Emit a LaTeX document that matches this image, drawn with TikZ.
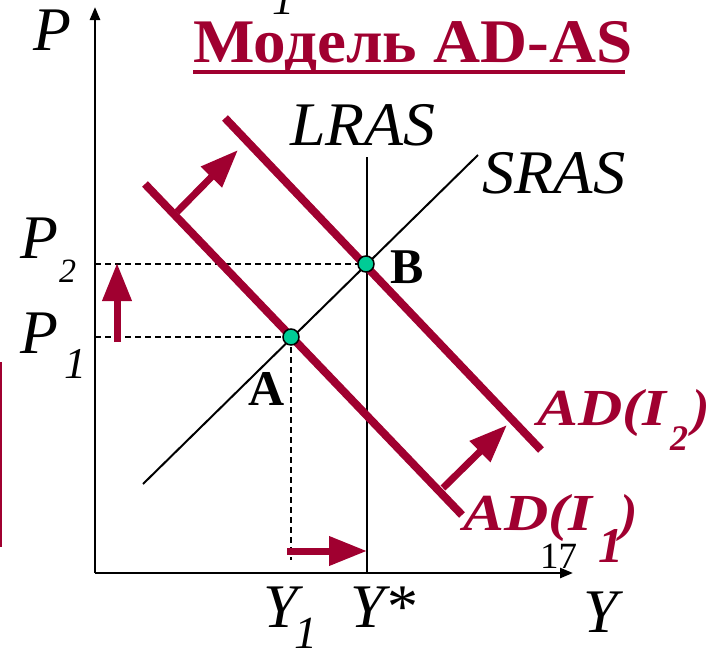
\documentclass[tikz,border=0pt]{standalone}
\usepackage{fontspec}
\setmainfont{Liberation Serif}
\usetikzlibrary{arrows.meta}
\definecolor{adred}{RGB}{160,0,48}
\definecolor{dotc}{RGB}{0,204,150}
\begin{document}
\begin{tikzpicture}[x=1pt,y=-1pt,
  lbl/.style={inner sep=0pt, anchor=base west, font=\fontsize{62}{62}\selectfont\itshape},
  sublbl/.style={inner sep=0pt, anchor=base west, font=\fontsize{44}{44}\selectfont\itshape},
  bigarrow/.style={adred, line width=7pt, -{Triangle[length=38pt,width=28pt]}},
  adline/.style={adred, line width=8pt},
  axis/.style={line width=2.5pt, -{Triangle[length=13pt,width=10pt]}},
  guide/.style={line width=2pt, dash pattern=on 6pt off 4pt},
  eqdot/.style={circle, fill=dotc, draw=black, line width=1.5pt, minimum size=16pt, inner sep=0pt},
  ptlbl/.style={inner sep=0pt, anchor=base west, font=\fontsize{50}{50}\selectfont\bfseries},
  adlbl/.style={inner sep=0pt, anchor=base west, text=adred, font=\fontsize{52}{52}\selectfont\bfseries\itshape},
  adsub/.style={inner sep=0pt, anchor=base west, text=adred, font=\fontsize{36}{36}\selectfont\bfseries\itshape},
  curvelbl/.style={inner sep=0pt, anchor=base west, font=\fontsize{62}{62}\selectfont\itshape}]
\useasboundingbox (0,0) rectangle (716,653);
\clip (0,0) rectangle (716,653);
% coordinates
\coordinate (O) at (95,573);
\coordinate (Ytop) at (95,7);
\coordinate (Xend) at (573,573);
\coordinate (A) at (291,337);
\coordinate (B) at (366,264);
\coordinate (P1) at (95,337);
\coordinate (P2) at (95,264);
\coordinate (Abot) at (291,560);
\coordinate (Ltop) at (367,157);
\coordinate (Lbot) at (367,573);
\coordinate (S1) at (143,484);
\coordinate (S2) at (478,155);
\coordinate (D1a) at (145,184);
\coordinate (D1b) at (462,515);
\coordinate (D2a) at (225,118);
\coordinate (D2b) at (541,450);
\coordinate (sh1a) at (177,212);
\coordinate (sh1b) at (238,150);
\coordinate (sh2a) at (443,488);
\coordinate (sh2b) at (507,425);
\coordinate (pa) at (117,342);
\coordinate (pb) at (117,263);
\coordinate (ya) at (287,551);
\coordinate (yb) at (367,551);
\coordinate (rl1) at (1,362);
\coordinate (rl2) at (1,547);
% title
\node[inner sep=0pt, anchor=base west, text=adred, font=\fontsize{62}{62}\selectfont\bfseries] (title) at (193,63) {\scalebox{1.05}[1]{Модель AD-AS}};
\fill[adred] (193,70) rectangle (625,74);
\node[sublbl] (top1) at (272,15) {1};
% axes
\draw[axis] (O) -- (Ytop);
\draw[axis] (O) -- (Xend);
% guides
\draw[guide] (P2) -- (B);
\draw[guide] (P1) -- (A);
\draw[guide] (A) -- (Abot);
% LRAS, SRAS
\draw[line width=2pt] (Ltop) -- (Lbot);
\draw[line width=2pt] (S1) -- (S2);
% AD lines
\draw[adline] (D1a) -- (D1b);
\draw[adline] (D2a) -- (D2b);
% arrows
\draw[bigarrow] (sh1a) -- (sh1b);
\draw[bigarrow] (sh2a) -- (sh2b);
\draw[bigarrow] (pa) -- (pb);
\draw[bigarrow] (ya) -- (yb);
% dots
\node[eqdot] (dA) at (A) {};
\node[eqdot] (dB) at (B) {};
% left red line
\draw[adred, line width=2pt] (rl1) -- (rl2);
% labels
\node[lbl] (Plbl) at (33,50) {P};
\node[lbl] (P2lbl) at (20,258) {P};
\node[inner sep=0pt, anchor=base west, font=\fontsize{34}{34}\selectfont\itshape] (P2sub) at (59,282) {2};
\node[lbl] (P1lbl) at (20,353) {P};
\node[sublbl] (P1sub) at (64,378) {1};
\node[lbl] (Y1lbl) at (263,627) {Y};
\node[inner sep=0pt, anchor=base west, font=\fontsize{46}{46}\selectfont\itshape] (Y1sub) at (294,648) {1};
\node[lbl] (Ystar) at (350,627) {Y*};
\node[lbl] (Ylbl) at (583,632) {Y};
\node[curvelbl] (LRAS) at (290,145) {\scalebox{1.03}[1]{LRAS}};
\node[curvelbl] (SRAS) at (482,193) {\scalebox{1.04}[1]{SRAS}};
\node[ptlbl] (Albl) at (248,405) {A};
\node[ptlbl] (Blbl) at (390,283) {B};
\node[adlbl] (AD2) at (537,425) {\scalebox{1.18}[1]{AD(I}};
\node[adsub] (AD2s) at (670,450) {2};
\node[adlbl] (AD2p) at (692,425) {)};
\node[adlbl] (AD1) at (463,530) {\scalebox{1.18}[1]{AD(I}};
\node[inner sep=0pt, anchor=base west, text=adred, font=\fontsize{50}{50}\selectfont\bfseries\itshape] (AD1s) at (598,562) {1};
\node[adlbl] (AD1p) at (620,530) {)};
\node[inner sep=0pt, anchor=base west, font=\fontsize{37}{37}\selectfont] (n17) at (540,568) {17};
\end{tikzpicture}
\end{document}
